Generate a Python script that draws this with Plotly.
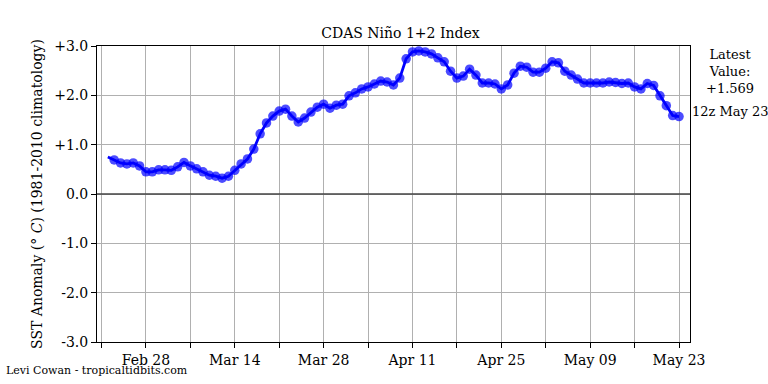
import plotly.graph_objects as go
import pandas as pd

dates = pd.date_range("2023-02-22", "2023-05-23", freq="D").strftime("%Y-%m-%d").tolist()
anomaly = [
    0.75, 0.69, 0.63, 0.61, 0.63, 0.57, 0.45,          # Feb 22-28
    0.45, 0.49, 0.49, 0.48, 0.55, 0.64, 0.57, 0.51, 0.45, 0.38,  # Mar 1-10
    0.36, 0.32, 0.36, 0.48, 0.61, 0.71, 0.91, 1.22, 1.44, 1.58,  # Mar 11-20
    1.68, 1.72, 1.58, 1.46, 1.54, 1.66, 1.76, 1.82, 1.74, 1.80, 1.82,  # Mar 21-31
    1.99, 2.05, 2.13, 2.17, 2.23, 2.29, 2.27, 2.21, 2.35, 2.74,  # Apr 1-10
    2.88, 2.90, 2.88, 2.84, 2.76, 2.68, 2.49, 2.35, 2.39, 2.53,  # Apr 11-20
    2.41, 2.25, 2.25, 2.23, 2.13, 2.21, 2.45, 2.59, 2.57, 2.47,  # Apr 21-30
    2.47, 2.55, 2.68, 2.66, 2.49, 2.41, 2.33, 2.25, 2.25, 2.25,  # May 1-10
    2.25, 2.27, 2.26, 2.24, 2.25, 2.17, 2.13, 2.24, 2.20, 1.99,  # May 11-20
    1.79, 1.59, 1.569,                                           # May 21-23
]

week_ticks = pd.date_range("2023-02-21", "2023-05-23", freq="7D").strftime("%Y-%m-%d").tolist()
week_labels = ["", "Feb 28", "", "Mar 14", "", "Mar 28", "", "Apr 11", "", "Apr 25", "", "May 09", "", "May 23"]
y_ticks = [3, 2, 1, 0, -1, -2, -3]
y_labels = ["+3.0", "+2.0", "+1.0", "0.0", "-1.0", "-2.0", "-3.0"]

latest_text = "Latest<br>Value:<br>+1.569"
latest_time = "12z May 23"
credit = "Levi Cowan - tropicaltidbits.com"
title = "CDAS Niño 1+2 Index"

FONT = "DejaVu Serif"

fig = go.Figure()
fig.add_trace(go.Scatter(
    x=dates, y=anomaly, mode="lines+markers",
    line=dict(color="#0000ff", width=2.8),
    marker=dict(color="#0000ff", size=[0] + [9.5] * (len(anomaly) - 1),
                line=dict(width=0)),
    showlegend=False, hoverinfo="skip",
))

fig.add_shape(type="line", xref="paper", yref="y", x0=0, x1=1, y0=0, y1=0,
              line=dict(color="#444444", width=1.5), layer="above")

fig.update_layout(
    width=768, height=384,
    margin=dict(l=97, r=78, t=46, b=42),
    paper_bgcolor="white", plot_bgcolor="white",
    font=dict(family=FONT, size=14, color="black"),
    title=dict(text=title, x=393 / 768, xanchor="center", xref="paper",
               y=1 - 33 / 384, yref="container", yanchor="middle",
               font=dict(family=FONT, size=14, color="black")),
    xaxis=dict(
        range=["2023-02-20 07:00", "2023-05-24 17:30"],
        tickmode="array", tickvals=week_ticks, ticktext=week_labels,
        showgrid=True, gridcolor="#b0b0b0", gridwidth=1,
        ticks="outside", ticklen=5, tickcolor="black", tickwidth=1,
        showline=True, linecolor="black", linewidth=1, mirror=True,
        zeroline=False, tickfont=dict(family=FONT, size=14),
    ),
    yaxis=dict(
        range=[-3, 3],
        tickmode="array", tickvals=y_ticks, ticktext=y_labels,
        showgrid=True, gridcolor="#b0b0b0", gridwidth=1,
        ticks="outside", ticklen=5, tickcolor="black", tickwidth=1,
        showline=True, linecolor="black", linewidth=1, mirror=True,
        zeroline=False, tickfont=dict(family=FONT, size=14),
        title=dict(text="SST Anomaly (<i>° C</i>) (1981-2010 climatology)",
                   font=dict(family=FONT, size=14), standoff=8),
    ),
)

fig.add_annotation(text=latest_text, xref="paper", yref="paper",
                   x=(730 - 97) / (690 - 97), y=(342 - 45) / 296,
                   xanchor="center", yanchor="top", showarrow=False,
                   font=dict(family=FONT, size=13, color="black"))
fig.add_annotation(text=latest_time, xref="paper", yref="paper",
                   x=(730 - 97) / (690 - 97), y=(342 - 111) / 296,
                   xanchor="center", yanchor="middle", showarrow=False,
                   font=dict(family=FONT, size=13, color="black"))
fig.add_annotation(text=credit, xref="paper", yref="paper",
                   x=(4 - 97) / (690 - 97), y=(342 - 370) / 296,
                   xanchor="left", yanchor="middle", showarrow=False,
                   font=dict(family=FONT, size=11, color="black"))

fig.write_html("out.html", config={"displayModeBar": False},
               post_script="document.body.style.margin='0';document.body.style.padding='0';")
